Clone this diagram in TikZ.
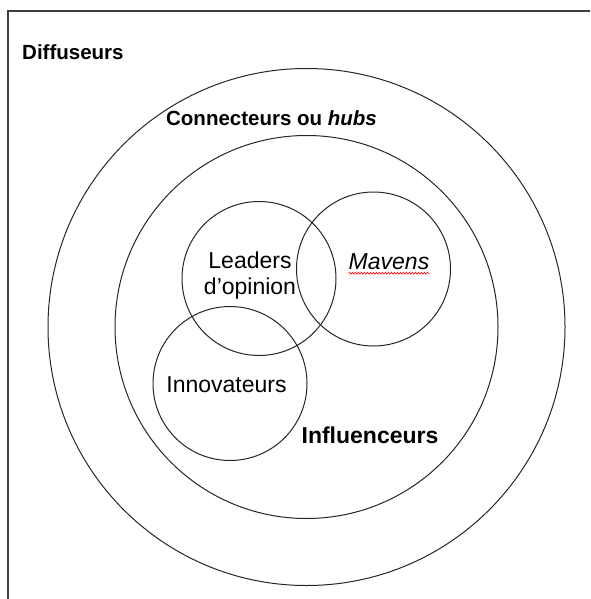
\documentclass[tikz,border=0pt]{standalone}
\usepackage{fontspec}
\setmainfont{Liberation Sans}
\usetikzlibrary{positioning,decorations.pathmorphing}
\tikzstyle{ring}  = [circle, draw=black!85, line width=1pt, inner sep=0pt]
\tikzstyle{big}   = [font=\fontsize{20.5}{24}\selectfont\bfseries, inner sep=0pt]
\tikzstyle{plain} = [font=\fontsize{23}{27}\selectfont, inner sep=0pt, align=center]
\tikzstyle{frame} = [draw=black!75, line width=1.5pt]

\begin{document}
\begin{tikzpicture}[x=1pt, y=-1pt]
		\useasboundingbox (0,0) rectangle (590,599);
		\draw[frame] (590,11) -- (8,11) -- (8,599);

		% nested circles
		\node[ring, minimum size=517pt] (diff) at (306.5,327) {};
		\node[ring, minimum size=383pt] (conn) at (306.5,327) {};
		\node[ring, minimum size=154pt] (lead) at (259,278.5) {};
		\node[ring, minimum size=154pt] (mav)  at (373.5,269) {};
		\node[ring, minimum size=154pt] (inno) at (230,383.5) {};

		% labels
		\node[big, anchor=west] (tdiff) at (22,52) {Diffuseurs};
		\node[big] (tconn) at (271.5,118) {Connecteurs ou \textit{hubs}};
		\node[plain, font=\fontsize{23}{26}\selectfont] (tlead) at (250,276) {Leaders\\d'opinion};
		\node[plain] (tmav) at (389,262) {\textit{Mavens}};
		\node[plain] (tinno) at (226.5,385) {Innovateurs};
		\node[big, font=\fontsize{23}{27}\selectfont\bfseries] (tinfl) at (370,435) {Influenceurs};

		\draw[red, line width=0.6pt, decorate, decoration={snake, amplitude=1pt, segment length=3pt}]
			([yshift=-3pt]tmav.south west) -- ([yshift=-3pt]tmav.south east);
	\end{tikzpicture}
\end{document}
